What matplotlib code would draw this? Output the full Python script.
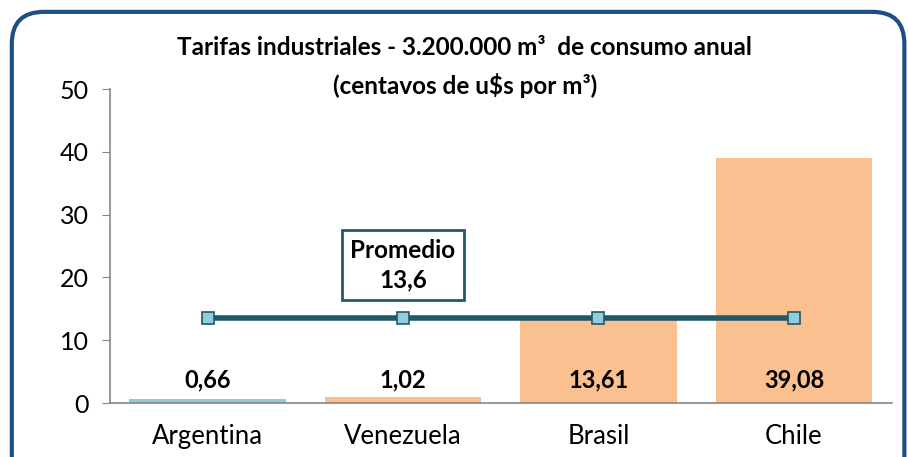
import matplotlib.pyplot as plt
from matplotlib.patches import FancyBboxPatch

# Datos del grafico
paises = ['Argentina', 'Venezuela', 'Brasil', 'Chile']
tarifas = [0.66, 1.02, 13.61, 39.08]
etiquetas = ['0,66', '1,02', '13,61', '39,08']
promedio = 13.6
colores = ['#93C9DA', '#FAC090', '#FAC090', '#FAC090']

plt.rcParams['font.family'] = ['Lato', 'DejaVu Sans']

fig = plt.figure(figsize=(9.08, 4.57), dpi=100)
ax = fig.add_axes([0.121, 0.118, 0.861, 0.687])

x = list(range(len(paises)))
ax.bar(x, tarifas, width=0.8, color=colores, zorder=2)
ax.plot(x, [promedio] * len(x), color='#215968', lw=4, marker='s',
        markersize=8.5, markerfacecolor='#93CDDD', markeredgecolor='#215968',
        markeredgewidth=1.2, zorder=3)

for xi, et in zip(x, etiquetas):
    ax.text(xi, 3.7, et, ha='center', va='center', fontsize=17,
            fontweight='bold', color='black', zorder=4)

ax.text(1, 22, 'Promedio\n13,6', ha='center', va='center', fontsize=17.5,
        fontweight='bold', linespacing=1.35, zorder=4,
        bbox=dict(boxstyle='square,pad=0.35', fc='white', ec='#215968', lw=2))

ax.set_xlim(-0.5, 3.5)
ax.set_ylim(0, 50)
ax.set_yticks(range(0, 51, 10))
ax.set_xticks(x)
ax.set_xticklabels(paises, fontsize=18.5)
ax.tick_params(axis='x', length=0, pad=15)
ax.tick_params(axis='y', labelsize=18, length=6, color='#868686', pad=9)
for s in ['top', 'right']:
    ax.spines[s].set_visible(False)
for s in ['left', 'bottom']:
    ax.spines[s].set_color('#868686')
    ax.spines[s].set_linewidth(1.2)

fig.text(0.512, 0.897, 'Tarifas industriales - 3.200.000 m³  de consumo anual',
         ha='center', va='center', fontsize=17.5, fontweight='bold')
fig.text(0.512, 0.814, '(centavos de u$s por m³)',
         ha='center', va='center', fontsize=17.5, fontweight='bold')

borde = FancyBboxPatch((0.013, -0.1), 0.983, 1.074,
                       boxstyle='round,pad=0,rounding_size=0.035',
                       transform=fig.transFigure, fc='none', ec='#1F4E85',
                       lw=3, clip_on=False, mutation_aspect=2.0)
fig.patches.append(borde)

fig.savefig('out.png', dpi=100)
